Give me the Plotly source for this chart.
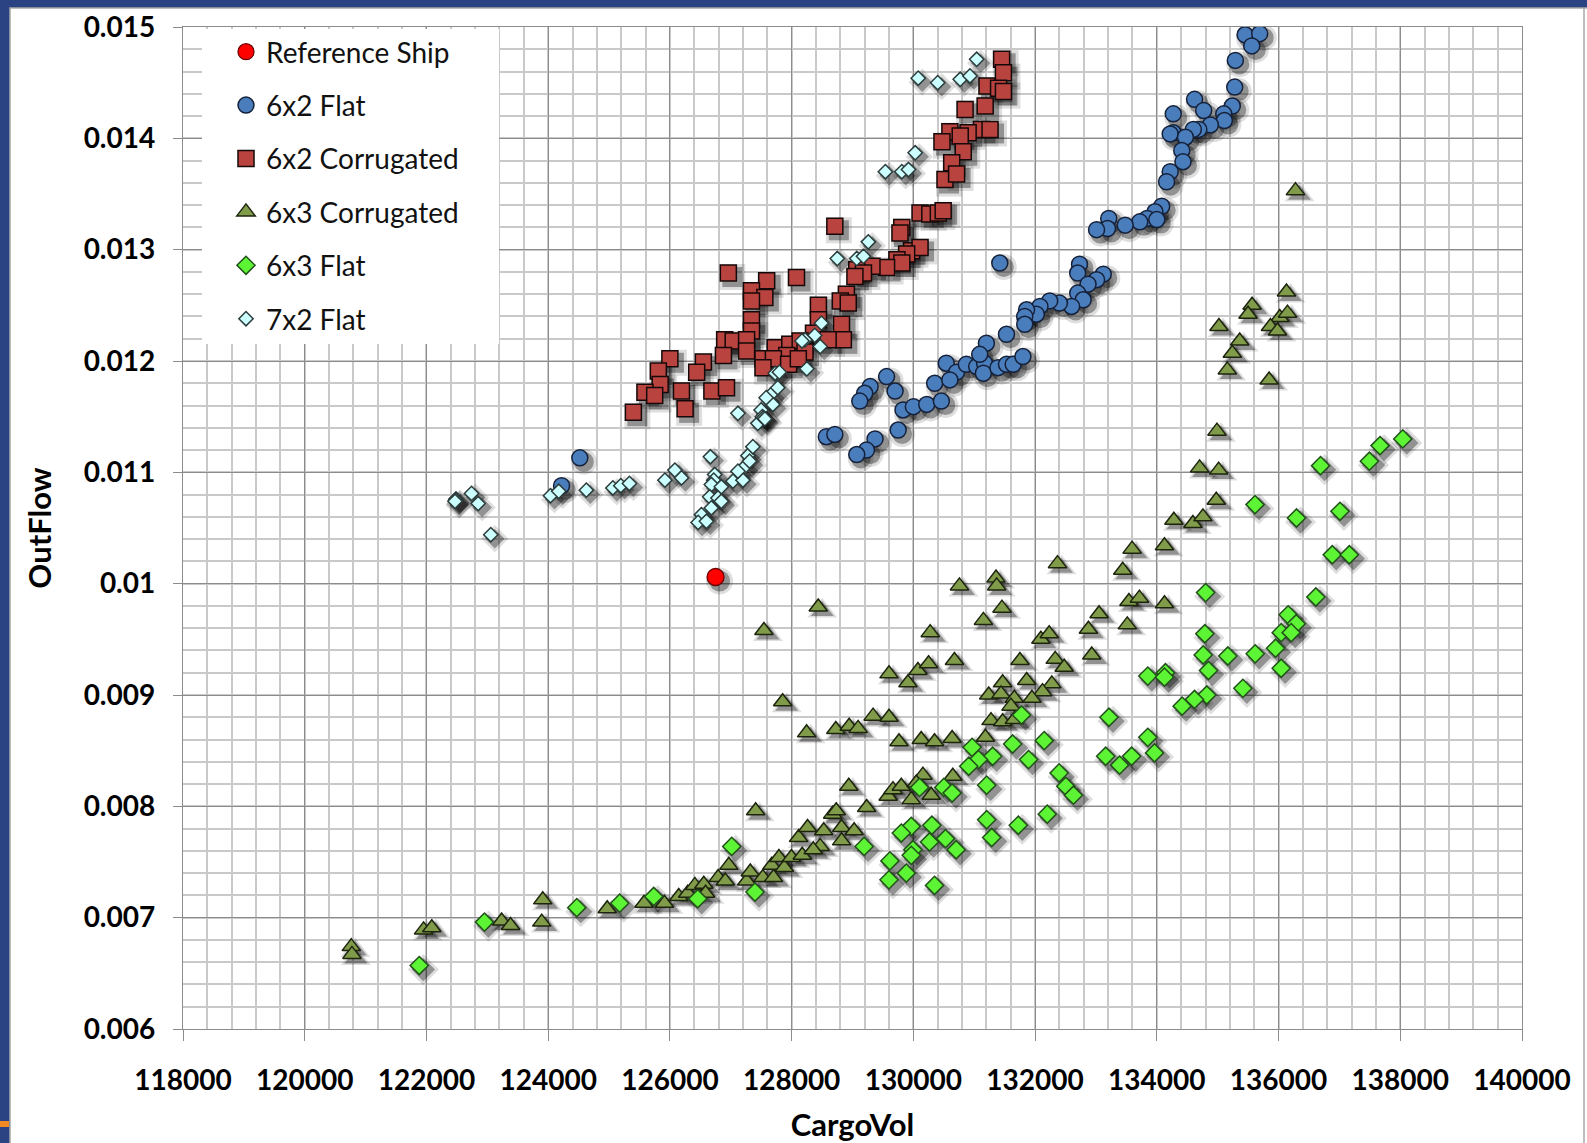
import plotly.graph_objects as go

# ---------------- data ----------------
ref_x = [126750]
ref_y = [0.01006]

flat6x2_x = [
    135450, 135690, 135560, 135290, 135280, 134620, 134770, 135240, 135100, 135110,
    134270, 134880, 134690, 134600, 134270, 134220, 134470, 134410, 134430, 134220,
    134160, 134080, 133970, 133840, 134000, 133720, 133480, 133210, 133190, 133010,
    131420, 132730, 132700, 133120, 133010, 132870, 132700, 132790, 132600, 132400,
    132240, 132080, 132020, 131860, 131830, 131830, 131530, 131200, 130540, 130350,
    130710, 130600, 130870, 131040, 131170, 131150, 131390, 131530, 131640, 131800,
    131090, 129560, 129290, 129200, 129120, 129700, 129830, 130000, 130220, 130460,
    129750, 128570, 128710, 129370, 129230, 129070, 124520, 124220,
]
flat6x2_y = [
    0.01493, 0.01494, 0.01483, 0.01470, 0.01446, 0.01435, 0.01425, 0.01429, 0.01422, 0.01416,
    0.01422, 0.01412, 0.01408, 0.01408, 0.01405, 0.01404, 0.01401, 0.01389, 0.01379, 0.01370,
    0.01361, 0.01339, 0.01334, 0.01328, 0.01327, 0.01325, 0.01322, 0.01328, 0.01319, 0.01318,
    0.01288, 0.01287, 0.01279, 0.01278, 0.01273, 0.01269, 0.01261, 0.01255, 0.01249, 0.01252,
    0.01254, 0.01249, 0.01242, 0.01246, 0.01240, 0.01233, 0.01224, 0.01216, 0.01198, 0.01180,
    0.01190, 0.01183, 0.01197, 0.01195, 0.01198, 0.01189, 0.01194, 0.01197, 0.01197, 0.01204,
    0.01206, 0.01186, 0.01177, 0.01171, 0.01164, 0.01173, 0.01156, 0.01159, 0.01161, 0.01164,
    0.01138, 0.01132, 0.01134, 0.01130, 0.01120, 0.01116, 0.01113, 0.01088,
]

corr6x2_x = [
    131450, 131480, 131210, 131400, 131480, 131180, 130850, 131120, 131260, 130600,
    130900, 130770, 130470, 130820, 130630, 130520, 130710,
    130110, 130270, 130410, 130490, 128710, 129810, 129780, 129970, 130110, 129890,
    129730, 129810, 129560, 129320, 129070, 129180, 129040,
    126960, 128080, 127590, 127340, 127560, 127340, 128440, 128900, 128800, 128930,
    127340, 127340, 128820, 128440, 128360, 128850, 128600, 126900, 127040, 127260,
    127260, 126880, 127730, 127970, 128140, 128220, 127920, 127530, 127700, 127530,
    127950, 128110,
    126000, 125810, 126550, 126440, 125840, 125590, 125750, 126190, 126690, 126930,
    125400, 126250,
]
corr6x2_y = [
    0.01471, 0.01459, 0.01447, 0.01445, 0.01442, 0.01429, 0.01426, 0.01408, 0.01408, 0.01406,
    0.01405, 0.01402, 0.01397, 0.01388, 0.01378, 0.01363, 0.01368,
    0.01333, 0.01332, 0.01333, 0.01335, 0.01321, 0.01320, 0.01315, 0.01299, 0.01302, 0.01296,
    0.01291, 0.01288, 0.01284, 0.01285, 0.01282, 0.01279, 0.01276,
    0.01279, 0.01275, 0.01272, 0.01263, 0.01257, 0.01254, 0.01250, 0.01260, 0.01254, 0.01252,
    0.01237, 0.01227, 0.01233, 0.01237, 0.01225, 0.01219, 0.01219, 0.01219, 0.01218, 0.01219,
    0.01209, 0.01205, 0.01212, 0.01215, 0.01218, 0.01208, 0.01205, 0.01202, 0.01202, 0.01194,
    0.01197, 0.01202,
    0.01202, 0.01191, 0.01199, 0.01190, 0.01179, 0.01172, 0.01169, 0.01173, 0.01173, 0.01176,
    0.01154, 0.01157,
]

corr6x3_x = [
    120765, 120776, 121953, 122088, 123235, 123382, 123911, 123894, 124970, 125575,
    125910, 126145, 126292, 126410, 126557, 126586, 126792, 126910, 126968, 127262,
    127321, 127409, 127527, 127703, 127674, 127791, 127880, 127997, 128174, 128115,
    128262, 128527, 128468, 128674, 128733, 128821, 128821, 129027, 128939, 129233,
    129586, 127545,
    132368, 133440, 130757, 131358, 131369, 128437, 131456, 131151, 130277, 133051,
    132876, 133542, 133515, 132095, 132232, 130675, 131751, 132330, 132478, 132931,
    129600, 129911, 130075, 130250, 131467, 131862, 132275, 132122, 131238, 131440,
    131659, 131948, 131604, 127853, 129338, 129600, 128246, 128726, 128945, 129092,
    129764, 130129, 130348, 130637, 131183, 131276, 131467, 131659, 130157, 130648,
    129665, 129802, 130048, 129966, 130293, 128355,
    136278, 136130, 135565, 135499, 136020, 136147, 135021, 135867, 135982, 135362,
    135241, 135158, 135845, 134988, 134703, 135016, 134977, 134280, 134593, 134758,
    133594, 134126, 133714, 134126,
]
corr6x3_y = [
    0.00674, 0.00667, 0.00689, 0.00691, 0.00697, 0.00693, 0.00716, 0.00696, 0.00708, 0.00713,
    0.00713, 0.00719, 0.00722, 0.00729, 0.00730, 0.00722, 0.00736, 0.00733, 0.00747, 0.00733,
    0.00741, 0.00796, 0.00736, 0.00736, 0.00747, 0.00754, 0.00745, 0.00754, 0.00756, 0.00772,
    0.00781, 0.00778, 0.00764, 0.00793, 0.00796, 0.00781, 0.00769, 0.00778, 0.00818, 0.00799,
    0.00809, 0.00958,
    0.01018, 0.01012, 0.00998, 0.01005, 0.00998, 0.00979, 0.00978, 0.00967, 0.00956, 0.00973,
    0.00959, 0.00984, 0.00963, 0.00950, 0.00955, 0.00931, 0.00931, 0.00932, 0.00925, 0.00936,
    0.00919, 0.00911, 0.00922, 0.00928, 0.00911, 0.00913, 0.00910, 0.00903, 0.00900, 0.00901,
    0.00897, 0.00897, 0.00890, 0.00894, 0.00881, 0.00880, 0.00866, 0.00869, 0.00872, 0.00870,
    0.00858, 0.00860, 0.00858, 0.00861, 0.00862, 0.00877, 0.00876, 0.00878, 0.00828, 0.00827,
    0.00815, 0.00818, 0.00821, 0.00806, 0.00810, 0.00761,
    0.01353, 0.01262, 0.01250, 0.01242, 0.01239, 0.01243, 0.01231, 0.01231, 0.01227, 0.01218,
    0.01207, 0.01192, 0.01183, 0.01137, 0.01104, 0.01102, 0.01075, 0.01057, 0.01054, 0.01060,
    0.01031, 0.01034, 0.00987, 0.00982,
]

flat6x3_x = [
    121882, 122953, 124470, 125175, 125734, 126457, 127016, 127398, 129191, 129615,
    129600,
    131778, 130965, 131303, 131069, 130910, 131631, 131893, 132150, 133214, 133160,
    133389, 133586, 130102, 130501, 130637, 131205, 132395, 132505, 132630, 129966,
    129802, 130304, 130266, 130528, 130703, 129993, 129966, 129884, 130348, 131205,
    131287, 131724, 132200,
    138041, 137668, 137493, 136690, 135614, 136295, 137009, 136883, 137163, 134802,
    136613, 136158,
    136291, 136044, 136208, 135951, 134789, 134762, 135167, 135617, 136044, 134849,
    133852, 134142, 134126, 135414, 134822, 134619, 134416, 133852, 133962,
]
flat6x3_y = [
    0.00657, 0.00696, 0.00709, 0.00713, 0.00719, 0.00717, 0.00764, 0.00723, 0.00764, 0.00751,
    0.00734,
    0.00882, 0.00853, 0.00845, 0.00842, 0.00836, 0.00856, 0.00842, 0.00859, 0.00880, 0.00845,
    0.00837, 0.00845, 0.00817, 0.00817, 0.00812, 0.00819, 0.00830, 0.00818, 0.00810, 0.00782,
    0.00776, 0.00783, 0.00768, 0.00771, 0.00761, 0.00761, 0.00756, 0.00740, 0.00729, 0.00788,
    0.00772, 0.00783, 0.00793,
    0.01130, 0.01124, 0.01110, 0.01106, 0.01071, 0.01059, 0.01065, 0.01026, 0.01026, 0.00992,
    0.00988, 0.00972,
    0.00964, 0.00956, 0.00956, 0.00942, 0.00955, 0.00936, 0.00935, 0.00937, 0.00924, 0.00922,
    0.00917, 0.00920, 0.00916, 0.00906, 0.00900, 0.00896, 0.00890, 0.00862, 0.00848,
]

flat7x2_x = [
    131040, 130080, 130400, 130770, 130930, 130030, 129540, 129810, 129920, 129260,
    128750, 129070, 129180, 128490, 128380, 128220, 128470, 128170, 128250, 127730,
    122485, 122480, 122470, 122741, 122850, 123057, 124038, 124174, 124627, 125063,
    125193, 125335, 125918, 126082, 126191, 126665, 126736, 126720, 126681, 126845,
    126654, 126790, 126845, 126681, 126518, 126464, 126600, 127036, 127200, 127227,
    127281, 127363, 127118, 127309, 127118, 127445, 127499, 127520, 127540, 127560,
    127663, 127690, 127772, 127799, 127581,
]
flat7x2_y = [
    0.01471, 0.01454, 0.01450, 0.01453, 0.01456, 0.01387, 0.01370, 0.01370, 0.01372, 0.01307,
    0.01292, 0.01292, 0.01294, 0.01234, 0.01223, 0.01219, 0.01213, 0.01218, 0.01193, 0.01189,
    0.01076, 0.01075, 0.01074, 0.01081, 0.01072, 0.01044, 0.01079, 0.01083, 0.01084, 0.01086,
    0.01088, 0.01090, 0.01093, 0.01102, 0.01095, 0.01114, 0.01098, 0.01093, 0.01089, 0.01087,
    0.01078, 0.01077, 0.01074, 0.01068, 0.01062, 0.01055, 0.01056, 0.01092, 0.01093, 0.01105,
    0.01115, 0.01123, 0.01101, 0.01110, 0.01153, 0.01144, 0.01156, 0.01150, 0.01149, 0.01148,
    0.01170, 0.01161, 0.01176, 0.01190, 0.01167,
]

x_tick_vals = [118000, 120000, 122000, 124000, 126000, 128000, 130000,
               132000, 134000, 136000, 138000, 140000]
y_tick_vals = [0.006, 0.007, 0.008, 0.009, 0.010, 0.011, 0.012, 0.013, 0.014, 0.015]
y_tick_text = ['0.006', '0.007', '0.008', '0.009', '0.01', '0.011',
               '0.012', '0.013', '0.014', '0.015']

X_RANGE = [118000, 140000]
Y_RANGE = [0.006, 0.015]

# ---------------- styling ----------------
series = [
    ('Reference Ship', ref_x, ref_y,
     dict(symbol='circle', size=17, color='#ff0000', line=dict(color='#6e0000', width=1.3))),
    ('6x2 Flat', flat6x2_x, flat6x2_y,
     dict(symbol='circle', size=16, color='#4a7dbb', line=dict(color='#15213a', width=1.5))),
    ('6x2 Corrugated', corr6x2_x, corr6x2_y,
     dict(symbol='square', size=16, color='#b9443f', line=dict(color='#160808', width=1.5))),
    ('6x3 Corrugated', corr6x3_x, corr6x3_y,
     dict(symbol='triangle-up', size=16, color='#809b4a', line=dict(color='#1c240e', width=1.5))),
    ('6x3 Flat', flat6x3_x, flat6x3_y,
     dict(symbol='diamond', size=14, color='#5df435', line=dict(color='#22501a', width=1.5))),
    ('7x2 Flat', flat7x2_x, flat7x2_y,
     dict(symbol='diamond', size=11, color='#ccffff', line=dict(color='#2c3b3b', width=1.5))),
]

# plot area in pixels
W, H = 1587, 1143
L, R, T, B = 183, 65, 27, 114
PW, PH = W - L - R, H - T - B

# drop shadow: shift the shadow axes by a few pixels (right / down)
SHIFT_PX = 4
sdx = SHIFT_PX * (X_RANGE[1] - X_RANGE[0]) / PW
sdy = SHIFT_PX * (Y_RANGE[1] - Y_RANGE[0]) / PH

fig = go.Figure()

# shadows on the base axes (drawn underneath)
for name, xs, ys, mk in series:
    for extra, alpha in ((10, 0.13), (4, 0.34)):
        fig.add_trace(go.Scatter(
            x=xs, y=ys, mode='markers', xaxis='x', yaxis='y',
            showlegend=False, hoverinfo='skip',
            marker=dict(symbol=mk['symbol'], size=mk['size'] + extra,
                        color=f'rgba(0,0,0,{alpha})', line=dict(width=0)),
        ))

# the actual series on the overlaid axes
for i, (name, xs, ys, mk) in enumerate(series):
    fig.add_trace(go.Scatter(
        x=xs, y=ys, mode='markers', name=name, xaxis='x2', yaxis='y2',
        legendgroup=f'g{i}',
        marker=mk,
    ))

MAJOR = '#8c8c8c'
MINOR = '#c9c9c9'
TICKFONT = dict(family='Lato', size=28, color='#000000', weight='bold')
TITLEFONT = dict(family='Lato', size=31, color='#000000', weight='bold')

hidden = dict(showgrid=False, zeroline=False, showticklabels=False, ticks='',
              showline=False, fixedrange=True)

fig.update_layout(
    width=W, height=H,
    margin=dict(l=L, r=R, t=T, b=B, autoexpand=False),
    paper_bgcolor='#2b4383',
    plot_bgcolor='#ffffff',
    xaxis=dict(range=[X_RANGE[0] - sdx, X_RANGE[1] - sdx], **hidden),
    yaxis=dict(range=[Y_RANGE[0] + sdy, Y_RANGE[1] + sdy], **hidden),
    xaxis2=dict(
        overlaying='x', anchor='y2', side='bottom', range=X_RANGE,
        tickmode='array', tickvals=x_tick_vals, tickformat='d',
        ticks='outside', ticklen=11, tickwidth=1.3, tickcolor=MAJOR,
        ticklabelstandoff=15,
        showgrid=True, gridcolor=MAJOR, gridwidth=1.3,
        minor=dict(tickmode='linear', tick0=X_RANGE[0], dtick=400,
                   showgrid=True, gridcolor=MINOR, gridwidth=1.6, ticks=''),
        showline=True, linecolor=MAJOR, linewidth=1.3, mirror=True,
        zeroline=False, automargin=False, tickfont=TICKFONT,
        title=dict(text='CargoVol', font=TITLEFONT, standoff=25),
    ),
    yaxis2=dict(
        overlaying='y', anchor='x2', side='left', range=Y_RANGE,
        tickmode='array', tickvals=y_tick_vals, ticktext=y_tick_text,
        ticks='outside', ticklen=9, tickwidth=1.3, tickcolor=MAJOR,
        ticklabelstandoff=12,
        showgrid=True, gridcolor=MAJOR, gridwidth=1.3,
        minor=dict(tickmode='linear', tick0=Y_RANGE[0], dtick=0.0002,
                   showgrid=True, gridcolor=MINOR, gridwidth=1.6, ticks=''),
        showline=True, linecolor=MAJOR, linewidth=1.3, mirror=True,
        zeroline=False, automargin=False, tickfont=TICKFONT,
        title=dict(text='OutFlow', font=TITLEFONT, standoff=22),
    ),
    legend=dict(
        x=(226 - L) / PW, xanchor='left', y=1 - (27 - T) / PH, yanchor='top',
        bgcolor='rgba(0,0,0,0)', borderwidth=0,
        font=dict(family='Lato', size=28, color='#111111'),
        traceorder='grouped', tracegroupgap=14, itemsizing='trace',
    ),
    showlegend=True,
)


def px_x(p):
    return (p - L) / PW


def px_y(p):
    return (H - B - p) / PH


fig.update_layout(shapes=[
    # white slide panel with thin grey border
    dict(type='rect', xref='paper', yref='paper', layer='below',
         x0=px_x(10), x1=px_x(1620), y0=px_y(1180), y1=px_y(8),
         fillcolor='#ffffff', line=dict(color='#a8a8a8', width=1.5)),
    dict(type='line', xref='paper', yref='paper', layer='below',
         x0=px_x(1584), x1=px_x(1584), y0=px_y(1180), y1=px_y(8),
         line=dict(color='#a8a8a8', width=1.5)),
    # small orange accent at the lower left edge
    dict(type='rect', xref='paper', yref='paper', layer='below',
         x0=px_x(-2), x1=px_x(9), y0=px_y(1127), y1=px_y(1121),
         fillcolor='#f08a24', line=dict(width=0)),
    # white panel behind the legend
    dict(type='rect', xref='paper', yref='paper', layer='above',
         x0=px_x(202), x1=px_x(499), y0=px_y(344), y1=px_y(29),
         fillcolor='#ffffff', line=dict(width=0)),
])

fig.write_html('out.html')
